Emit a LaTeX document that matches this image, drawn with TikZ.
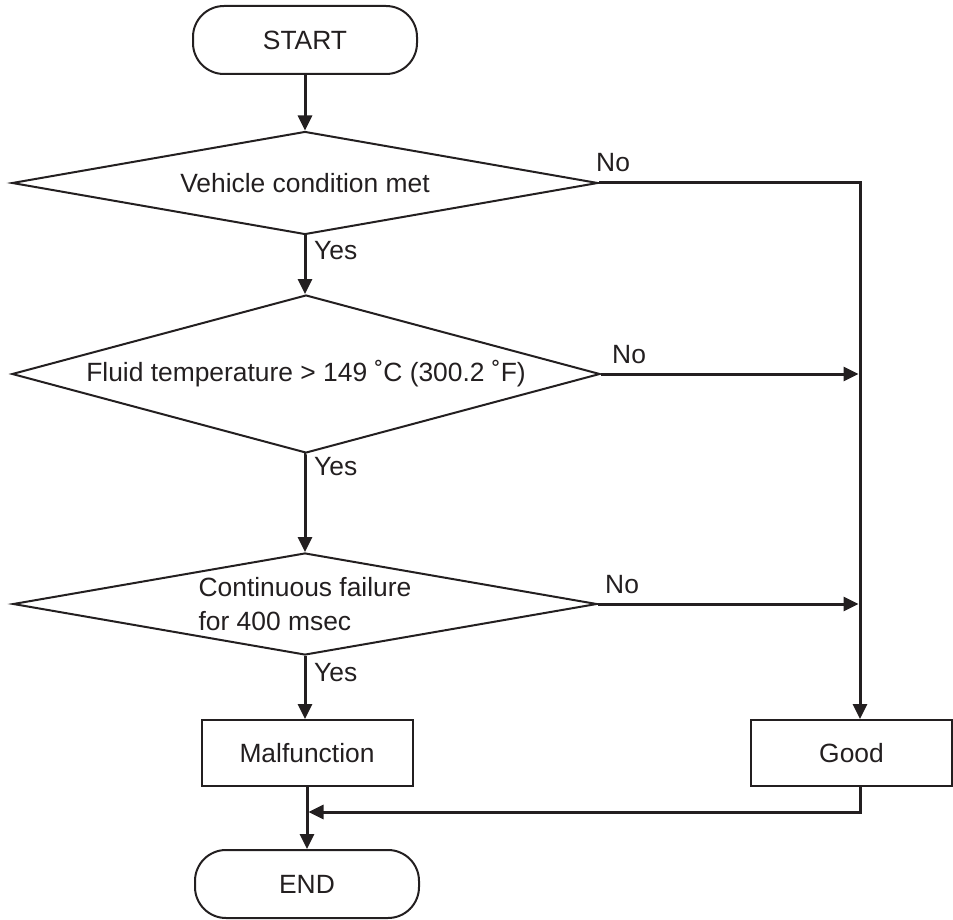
\documentclass[tikz,border=0pt]{standalone}
\usepackage{fontspec}
\setmainfont{Liberation Sans}
\usetikzlibrary{arrows.meta,shapes.geometric}
\definecolor{ink}{HTML}{231F20}
\begin{document}
\begin{tikzpicture}[x=1pt,y=-1pt,
  every node/.style={text=ink, font=\fontsize{26.4pt}{34pt}\selectfont},
  shapeline/.style={draw=ink, line width=2pt},
  terminal/.style={shapeline, rectangle, rounded corners=31pt, minimum width=224pt, minimum height=68pt, inner sep=0pt},
  decision/.style={shapeline, diamond, inner sep=0pt, align=left},
  process/.style={shapeline, rectangle, minimum height=66pt, inner sep=0pt},
  tag/.style={anchor=base west, inner sep=0pt},
  link/.style={draw=ink, line width=3pt},
  flow/.style={link, -{Triangle[length=15pt,width=14pt]}}]

\path[use as bounding box] (0,0) rectangle (953,920);

% flowchart boxes
\node[terminal] (start) at (305,40) {START};
\node[decision, minimum width=586pt, minimum height=103pt, aspect=5.7] (d1) at (305,183) {Vehicle condition met};
\node[decision, minimum width=588pt, minimum height=158pt, aspect=3.7] (d2) at (306,374) {Fluid temperature > 149 ˚C (300.2 ˚F)};
\node[decision, minimum width=584pt, minimum height=102pt, aspect=5.7] (d3) at (305,604) {Continuous failure\\for 400 msec};
\node[process, minimum width=211pt] (mal) at (307,753) {Malfunction};
\node[process, minimum width=201pt] (good) at (851.5,753) {Good};
\node[terminal] (end) at (307,884) {END};

% collector line on the right and the merge level
\coordinate (rt) at (860,183);
\coordinate (merge) at (860,812);

% main path
\draw[flow] (start.south) -- (start.south |- d1.north);
\draw[flow] (d1.south) -- (d1.south |- d2.north);
\draw[flow] (d2.south) -- (d2.south -| d3.north) -- (d3.north);
\draw[flow] (d3.south) -- (d3.south |- mal.north);
\draw[flow] (mal.south) -- (end.north);

% "No" branches
\draw[flow] (d1.east) -- (rt) -- (rt |- good.north);
\draw[flow, shorten >=1.5pt] (d2.east) -- (rt |- d2.east);
\draw[flow, shorten >=1.5pt] (d3.east) -- (rt |- d3.east);

% return from Good to the main path
\draw[flow, shorten >=1.5pt] (rt |- good.south) -- (merge) -- (merge -| mal.south);

% branch labels
\node[tag] (no1) at (596,172) {No};
\node[tag] (no2) at (612,363) {No};
\node[tag] (no3) at (605,593) {No};
\node[tag] (yes1) at (314,259) {Yes};
\node[tag] (yes2) at (314,475) {Yes};
\node[tag] (yes3) at (314,681) {Yes};
\end{tikzpicture}
\end{document}
